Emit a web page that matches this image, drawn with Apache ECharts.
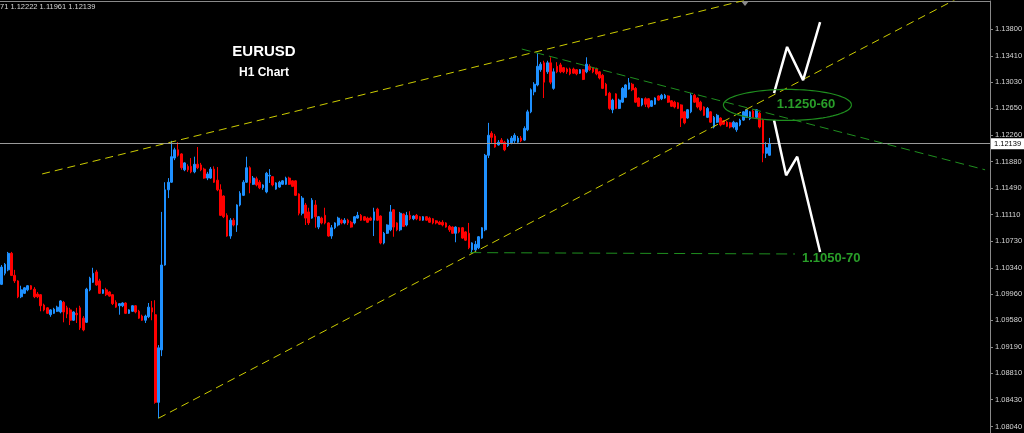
<!DOCTYPE html>
<html>
<head>
<meta charset="utf-8">
<script src="https://cdn.jsdelivr.net/npm/echarts@6/dist/echarts.min.js"></script>
<style>
  html, body { margin: 0; padding: 0; background: #000; }
  #chart { width: 1024px; height: 433px; }
</style>
</head>
<body>
<div id="chart"></div>
<script>
// EURUSD H1 candles, oldest first: [open, close, low, high]
const candles = [
  [1.1010,1.1035,1.1009,1.1038],[1.1026,1.1039,1.1023,1.1041],[1.1031,1.1055,1.1029,1.1057],[1.1055,1.1023,1.1022,1.1057],
  [1.1023,1.1015,1.1012,1.1031],[1.1015,1.0992,1.0990,1.1016],[1.0992,1.1002,1.0990,1.1008],[1.0997,1.1005,1.0996,1.1006],
  [1.1002,1.1008,1.1000,1.1009],[1.1008,1.1003,1.1002,1.1009],[1.1003,1.0992,1.0990,1.1006],[1.0996,1.0992,1.0990,1.0999],
  [1.0995,1.0979,1.0971,1.0996],[1.0980,1.0973,1.0971,1.0982],[1.0976,1.0968,1.0967,1.0977],[1.0966,1.0973,1.0963,1.0974],
  [1.0968,1.0974,1.0967,1.0976],[1.0971,1.0977,1.0970,1.0979],[1.0970,1.0986,1.0968,1.0987],[1.0984,1.0970,1.0955,1.0986],
  [1.0976,1.0967,1.0961,1.0979],[1.0973,1.0958,1.0951,1.0976],[1.0958,1.0970,1.0957,1.0971],[1.0968,1.0966,1.0954,1.0976],
  [1.0976,1.0947,1.0944,1.0979],[1.0961,1.0944,1.0942,1.0964],[1.0955,1.1003,1.0954,1.1005],[1.1002,1.1019,1.1000,1.1021],
  [1.1013,1.1026,1.1012,1.1034],[1.1028,1.1009,1.1008,1.1031],[1.1015,1.0997,1.0996,1.1018],[1.0997,1.1002,1.0996,1.1003],
  [1.1002,1.0995,1.0993,1.1005],[1.0999,1.0993,1.0992,1.1000],[1.0995,1.0982,1.0980,1.0996],[1.0984,1.0977,1.0976,1.0987],
  [1.0979,1.0982,1.0966,1.0983],[1.0979,1.0983,1.0977,1.0984],[1.0983,1.0968,1.0967,1.0984],[1.0968,1.0973,1.0967,1.0974],
  [1.0971,1.0979,1.0970,1.0980],[1.0979,1.0970,1.0968,1.0980],[1.0971,1.0961,1.0960,1.0973],[1.0964,1.0958,1.0957,1.0966],
  [1.0958,1.0964,1.0954,1.0966],[1.0963,1.0977,1.0961,1.0983],[1.0976,1.0970,1.0958,1.0986],[1.0966,1.0839,1.0837,1.0987],
  [1.0839,1.0918,1.0816,1.0922],[1.0915,1.1038,1.0906,1.1115],[1.1038,1.1147,1.1037,1.1158],[1.1147,1.1158,1.1135,1.1164],
  [1.1158,1.1195,1.1157,1.1218],[1.1193,1.1205,1.1190,1.1208],[1.1205,1.1197,1.1195,1.1216],[1.1199,1.1179,1.1176,1.1200],
  [1.1176,1.1186,1.1174,1.1187],[1.1181,1.1176,1.1173,1.1184],[1.1181,1.1173,1.1171,1.1193],[1.1173,1.1184,1.1171,1.1195],
  [1.1184,1.1179,1.1177,1.1209],[1.1183,1.1176,1.1174,1.1186],[1.1177,1.1164,1.1163,1.1179],[1.1164,1.1170,1.1161,1.1173],
  [1.1164,1.1177,1.1163,1.1180],[1.1177,1.1158,1.1157,1.1181],[1.1161,1.1147,1.1145,1.1180],[1.1147,1.1110,1.1109,1.1155],
  [1.1138,1.1108,1.1106,1.1139],[1.1110,1.1080,1.1079,1.1113],[1.1080,1.1103,1.1076,1.1106],[1.1103,1.1096,1.1094,1.1106],
  [1.1096,1.1125,1.1086,1.1126],[1.1125,1.1142,1.1123,1.1145],[1.1139,1.1158,1.1138,1.1161],[1.1158,1.1179,1.1157,1.1195],
  [1.1179,1.1157,1.1142,1.1181],[1.1155,1.1164,1.1154,1.1167],[1.1163,1.1154,1.1152,1.1166],[1.1158,1.1150,1.1148,1.1161],
  [1.1150,1.1154,1.1147,1.1155],[1.1144,1.1171,1.1142,1.1173],[1.1167,1.1168,1.1157,1.1177],[1.1166,1.1154,1.1152,1.1167],
  [1.1148,1.1157,1.1147,1.1158],[1.1151,1.1158,1.1150,1.1160],[1.1155,1.1160,1.1154,1.1161],[1.1155,1.1164,1.1154,1.1166],
  [1.1164,1.1155,1.1154,1.1166],[1.1160,1.1152,1.1151,1.1161],[1.1160,1.1139,1.1138,1.1161],[1.1141,1.1113,1.1110,1.1142],
  [1.1113,1.1135,1.1110,1.1138],[1.1125,1.1106,1.1096,1.1128],[1.1115,1.1099,1.1096,1.1121],[1.1106,1.1132,1.1105,1.1135],
  [1.1125,1.1108,1.1092,1.1132],[1.1093,1.1108,1.1090,1.1109],[1.1106,1.1099,1.1097,1.1108],[1.1110,1.1099,1.1097,1.1121],
  [1.1099,1.1080,1.1079,1.1100],[1.1080,1.1092,1.1076,1.1096],[1.1092,1.1099,1.1090,1.1100],[1.1096,1.1106,1.1094,1.1108],
  [1.1103,1.1099,1.1097,1.1105],[1.1099,1.1103,1.1097,1.1106],[1.1103,1.1099,1.1096,1.1105],[1.1100,1.1093,1.1092,1.1102],
  [1.1099,1.1108,1.1097,1.1109],[1.1106,1.1110,1.1105,1.1115],[1.1110,1.1103,1.1102,1.1112],[1.1108,1.1103,1.1102,1.1109],
  [1.1106,1.1100,1.1099,1.1108],[1.1106,1.1103,1.1102,1.1108],[1.1103,1.1115,1.1080,1.1121],[1.1119,1.1103,1.1102,1.1121],
  [1.1109,1.1070,1.1068,1.1110],[1.1070,1.1084,1.1068,1.1086],[1.1084,1.1096,1.1083,1.1097],[1.1089,1.1115,1.1087,1.1125],
  [1.1118,1.1093,1.1079,1.1119],[1.1099,1.1089,1.1087,1.1100],[1.1089,1.1113,1.1087,1.1115],[1.1112,1.1094,1.1093,1.1113],
  [1.1096,1.1110,1.1094,1.1115],[1.1110,1.1105,1.1103,1.1116],[1.1105,1.1109,1.1103,1.1110],[1.1110,1.1105,1.1103,1.1112],
  [1.1108,1.1103,1.1102,1.1109],[1.1103,1.1108,1.1102,1.1109],[1.1108,1.1103,1.1102,1.1109],[1.1106,1.1100,1.1099,1.1108],
  [1.1105,1.1099,1.1097,1.1106],[1.1102,1.1099,1.1097,1.1103],[1.1100,1.1097,1.1096,1.1102],[1.1100,1.1096,1.1094,1.1103],
  [1.1099,1.1093,1.1092,1.1100],[1.1094,1.1089,1.1086,1.1096],[1.1093,1.1084,1.1083,1.1094],[1.1084,1.1093,1.1071,1.1094],
  [1.1092,1.1086,1.1084,1.1093],[1.1092,1.1077,1.1076,1.1093],[1.1086,1.1074,1.1073,1.1087],[1.1084,1.1063,1.1061,1.1099],
  [1.1060,1.1070,1.1055,1.1071],[1.1060,1.1068,1.1058,1.1073],[1.1063,1.1079,1.1061,1.1080],[1.1077,1.1092,1.1076,1.1093],
  [1.1089,1.1197,1.1087,1.1199],[1.1197,1.1226,1.1193,1.1244],[1.1229,1.1223,1.1215,1.1232],[1.1225,1.1209,1.1208,1.1228],
  [1.1212,1.1216,1.1211,1.1219],[1.1219,1.1215,1.1213,1.1222],[1.1216,1.1205,1.1203,1.1218],[1.1211,1.1219,1.1209,1.1221],
  [1.1215,1.1222,1.1213,1.1225],
  [1.1218,1.1226,1.1215,1.1229],[1.1216,1.1222,1.1215,1.1225],[1.1222,1.1218,1.1216,1.1225],[1.1219,1.1236,1.1218,1.1239],
  [1.1234,1.1260,1.1232,1.1263],[1.1260,1.1292,1.1258,1.1294],[1.1289,1.1300,1.1284,1.1303],[1.1299,1.1326,1.1297,1.1345],
  [1.1321,1.1329,1.1318,1.1332],[1.1331,1.1303,1.1280,1.1334],[1.1318,1.1331,1.1315,1.1334],[1.1331,1.1303,1.1300,1.1339],
  [1.1294,1.1318,1.1292,1.1323],[1.1326,1.1318,1.1316,1.1332],[1.1328,1.1318,1.1316,1.1331],[1.1324,1.1318,1.1316,1.1325],
  [1.1322,1.1318,1.1315,1.1324],[1.1322,1.1315,1.1313,1.1324],[1.1322,1.1316,1.1315,1.1324],[1.1321,1.1315,1.1313,1.1322],
  [1.1316,1.1321,1.1315,1.1322],[1.1321,1.1307,1.1306,1.1322],[1.1318,1.1329,1.1316,1.1339],[1.1326,1.1321,1.1319,1.1329],
  [1.1324,1.1318,1.1316,1.1325],[1.1322,1.1315,1.1313,1.1324],[1.1318,1.1309,1.1307,1.1319],[1.1313,1.1294,1.1293,1.1315],
  [1.1300,1.1284,1.1283,1.1302],[1.1287,1.1265,1.1263,1.1289],[1.1263,1.1277,1.1258,1.1279],[1.1286,1.1265,1.1264,1.1287],
  [1.1265,1.1277,1.1264,1.1279],[1.1274,1.1294,1.1273,1.1296],[1.1281,1.1299,1.1280,1.1300],[1.1293,1.1302,1.1292,1.1309],
  [1.1300,1.1292,1.1290,1.1302],[1.1294,1.1274,1.1273,1.1296],[1.1280,1.1268,1.1267,1.1281],[1.1270,1.1279,1.1268,1.1280],
  [1.1279,1.1271,1.1267,1.1281],[1.1279,1.1267,1.1265,1.1280],[1.1268,1.1276,1.1267,1.1277],[1.1271,1.1280,1.1270,1.1281],
  [1.1283,1.1277,1.1276,1.1284],[1.1279,1.1284,1.1277,1.1286],[1.1280,1.1284,1.1279,1.1286],[1.1283,1.1274,1.1273,1.1284],
  [1.1276,1.1268,1.1267,1.1277],[1.1274,1.1267,1.1265,1.1276],[1.1273,1.1265,1.1264,1.1274],[1.1270,1.1251,1.1238,1.1271],
  [1.1260,1.1244,1.1242,1.1261],[1.1251,1.1263,1.1250,1.1264],[1.1260,1.1284,1.1258,1.1287],[1.1284,1.1274,1.1273,1.1286],
  [1.1280,1.1267,1.1265,1.1281],[1.1274,1.1263,1.1261,1.1276],[1.1267,1.1255,1.1254,1.1268],[1.1252,1.1265,1.1251,1.1267],
  [1.1260,1.1245,1.1244,1.1261],[1.1238,1.1252,1.1236,1.1254],[1.1245,1.1255,1.1244,1.1257],[1.1251,1.1241,1.1239,1.1252],
  [1.1247,1.1242,1.1241,1.1248],[1.1245,1.1239,1.1238,1.1247],[1.1244,1.1238,1.1236,1.1245],[1.1238,1.1245,1.1236,1.1247],
  [1.1234,1.1244,1.1231,1.1245],[1.1241,1.1248,1.1239,1.1250],[1.1248,1.1260,1.1247,1.1261],[1.1252,1.1263,1.1251,1.1264],
  [1.1250,1.1260,1.1248,1.1261],[1.1261,1.1252,1.1251,1.1263],[1.1252,1.1263,1.1251,1.1264],[1.1258,1.1238,1.1236,1.1260],
  [1.1248,1.1200,1.1187,1.1250],[1.1200,1.1208,1.1193,1.1216],[1.11971,1.12139,1.11961,1.12222]
];

// Price scale labels on the right edge
const priceTicks = [1.13800, 1.13410, 1.13030, 1.12650, 1.12260, 1.11880, 1.11490, 1.11110,
                    1.10730, 1.10340, 1.09960, 1.09580, 1.09190, 1.08810, 1.08430, 1.08040];
const priceMin = 1.07946;
const priceMax = 1.14206;

// Bar slots across the chart, including the empty space to the right of the last bar
const slotCount = 303;
const categories = Array.from({ length: slotCount }, (_, i) => String(i));

// Drawn objects, as [bar index, price] anchor points
const upperChannel = [[12.4, 1.1170], [232.0, 1.1427]];
const lowerChannel = [[48.0, 1.0816], [292.0, 1.1423]];
const resistanceLine = [[159.2, 1.1351], [301.0, 1.1176]];
const supportLine = [[143.4, 1.1056], [242.8, 1.1054]];
const bullishPath = [[236.4, 1.1287], [240.4, 1.1354], [245.3, 1.1306], [250.5, 1.1390]];
const bearishPath = [[236.4, 1.1248], [240.1, 1.1168], [243.5, 1.1195], [250.5, 1.1057]];
const targetZone = [[240.5, 1.1270]];
const zoneLabels = [
  { value: [246.2, 1.1271], name: '1.1250-60' },
  { value: [253.9, 1.1047], name: '1.1050-70' }
];

const quoteLine = '71 1.12222 1.11961 1.12139';
const lastClose = candles[candles.length - 1][1];

const FONT = 'Liberation Sans, Arial, sans-serif';
const YELLOW = '#cccc00';
const GREEN = '#1f8f1f';
const LIME = '#33c633';

function trendLine(points, color, dash, width) {
  return {
    type: 'line', xAxisIndex: 1, yAxisIndex: 0, data: points,
    symbol: 'none', silent: true, clip: true, z: 5,
    lineStyle: { color: color, width: width || 1, type: dash || 'solid' }
  };
}

const chart = echarts.init(document.getElementById('chart'));
chart.setOption({
  backgroundColor: '#000',
  animation: false,
  grid: { left: 0, right: 34, top: 1, bottom: 0, containLabel: false, outerBoundsMode: 'none' },
  xAxis: [
    {
      type: 'category', data: categories, position: 'top', boundaryGap: true,
      axisLine: { show: true, onZero: false, lineStyle: { color: '#8a8a8a' } },
      axisTick: { show: false }, axisLabel: { show: false }, splitLine: { show: false }
    },
    { type: 'value', min: -0.5, max: slotCount - 0.5, show: false }
  ],
  yAxis: {
    type: 'value', position: 'right', min: priceMin, max: priceMax,
    axisLine: { show: true, onZero: false, lineStyle: { color: '#8a8a8a' } },
    axisTick: { show: true, length: 3, customValues: priceTicks, lineStyle: { color: '#8a8a8a' } },
    axisLabel: {
      customValues: priceTicks, formatter: v => v.toFixed(5),
      color: '#d4d4d4', fontSize: 7.5, fontFamily: FONT, margin: 5
    },
    splitLine: { show: false }
  },
  series: [
    {
      type: 'candlestick', xAxisIndex: 0, yAxisIndex: 0, data: candles,
      barWidth: 2.2, z: 3,
      itemStyle: {
        color: '#1e90ff', color0: '#ff0000',
        borderColor: '#1e90ff', borderColor0: '#ff0000', borderWidth: 1
      },
      markLine: {
        symbol: 'none', silent: true, animation: false, precision: 5,
        lineStyle: { color: '#9a9a9a', type: 'solid', width: 1 },
        label: {
          position: 'end', distance: 1, formatter: p => Number(p.value).toFixed(5),
          backgroundColor: '#ffffff', color: '#000', fontSize: 7.5, fontFamily: FONT,
          padding: [2, 3, 1, 3]
        },
        data: [{ yAxis: lastClose }]
      }
    },
    trendLine(upperChannel, YELLOW, [8, 5]),
    trendLine(lowerChannel, YELLOW, [8, 5]),
    trendLine(resistanceLine, GREEN, [9, 5]),
    trendLine(supportLine, GREEN, [11, 6]),
    trendLine(bullishPath, '#ffffff', 'solid', 2.5),
    trendLine(bearishPath, '#ffffff', 'solid', 2.5),
    {
      type: 'custom', xAxisIndex: 1, yAxisIndex: 0, data: targetZone, silent: true, z: 6,
      renderItem: (params, api) => {
        const c = api.coord([api.value(0), api.value(1)]);
        const rx = 64, ry = 15.5, pts = [];
        for (let k = 0; k <= 96; k++) {
          const a = (k / 96) * Math.PI * 2;
          pts.push([c[0] + rx * Math.cos(a), c[1] + ry * Math.sin(a)]);
        }
        return { type: 'polyline', shape: { points: pts }, style: { stroke: GREEN, fill: 'none', lineWidth: 1.2 } };
      }
    },
    {
      type: 'scatter', xAxisIndex: 1, yAxisIndex: 0, data: zoneLabels, silent: true, z: 7,
      symbolSize: 1, itemStyle: { color: 'rgba(0,0,0,0)' },
      label: {
        show: true, position: 'inside', formatter: '{b}',
        color: LIME, fontSize: 13, fontWeight: 'bold', fontFamily: FONT
      }
    }
  ],
  graphic: [
    { type: 'text', left: 0, top: 3, style: { text: quoteLine, fill: '#d8d8d8', font: '7.5px ' + FONT } },
    { type: 'text', x: 264, y: 52, style: { text: 'EURUSD', fill: '#ffffff', font: 'bold 15px ' + FONT, align: 'center', verticalAlign: 'middle' } },
    { type: 'text', x: 264, y: 73, style: { text: 'H1 Chart', fill: '#ffffff', font: 'bold 12px ' + FONT, align: 'center', verticalAlign: 'middle' } },
    { type: 'polygon', shape: { points: [[741, 1], [749, 1], [745, 6]] }, style: { fill: '#8a8a8a' } }
  ]
});
</script>
</body>
</html>
